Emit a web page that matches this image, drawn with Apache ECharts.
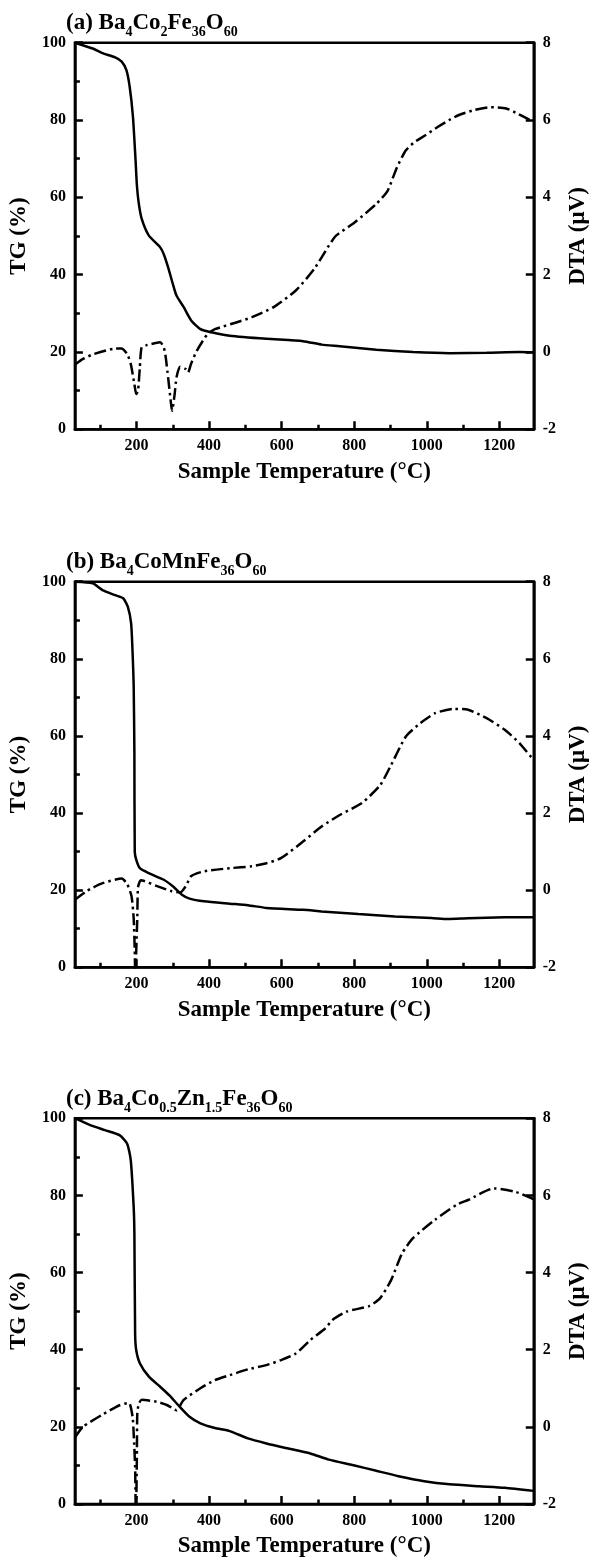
<!DOCTYPE html>
<html><head><meta charset="utf-8">
<script src="https://cdn.jsdelivr.net/npm/echarts@6/dist/echarts.min.js"></script>
<style>html,body{margin:0;padding:0;background:#fff}#c{width:598px;height:1561px}</style>
</head><body><div id="c"></div>
<script>
// ---- tick labels ----
const xTickValues = [200, 400, 600, 800, 1000, 1200];
const xMinorTickValues = [100, 300, 500, 700, 900, 1100];

// ---- panel titles ----
const titleA = '{m|(a) Ba}{s|4}{m|Co}{s|2}{m|Fe}{s|36}{m|O}{s|60}';
const titleB = '{m|(b) Ba}{s|4}{m|CoMnFe}{s|36}{m|O}{s|60}';
const titleC = '{m|(c) Ba}{s|4}{m|Co}{s|0.5}{m|Zn}{s|1.5}{m|Fe}{s|36}{m|O}{s|60}';

// ---- (a) Ba4Co2Fe36O60 ----
const tempA_TG = [30,79,106,141,159,172,181,190,197,201,206,214,234,265,275,287,300,310,330,351,376,406,457,558,659,710,760,861,962,1063,1165,1256,1294];
const tgA      = [100,98.5,97.3,96.2,95.1,92.9,88.6,80.9,70,63,58.5,54.5,50.1,47.1,45.3,41.9,37.6,34.6,31.6,28.1,25.9,25.1,24.2,23.4,22.8,21.9,21.5,20.6,20.0,19.7,19.8,20.0,19.9];
const tempA_DTA = [30,52,83,143,158,174,184,194,199,204,209,214,229,265,275,280,287,295,298,305,310,320,335,342,350,366,396,416,477,518,578,639,690,730,750,801,861,892,918,942,965,995,1030,1062,1089,1132,1176,1219,1245,1272,1294];
const dtaA      = [-0.33,-0.18,-0.05,0.09,0.09,-0.05,-0.31,-0.83,-1.09,-1.0,-0.40,0.12,0.18,0.25,0.12,-0.11,-0.66,-1.34,-1.52,-1.09,-0.66,-0.38,-0.44,-0.53,-0.31,0.03,0.47,0.59,0.77,0.90,1.16,1.59,2.15,2.75,3.01,3.35,3.83,4.17,4.78,5.21,5.42,5.6,5.82,6.0,6.13,6.26,6.33,6.3,6.19,6.06,5.95];

// ---- (b) Ba4CoMnFe36O60 ----
const tempB_TG = [30,79,106,141,163,176,185,189.5,192,194,195,199,209,234,275,300,325,346,386,457,507,558,659,710,811,912,1013,1058,1114,1215,1294];
const tgB      = [100,99.6,97.8,96.5,95.7,93.5,89.2,80.5,73.2,56,30,27.9,25.7,24.4,22.7,21,18.8,17.8,17.1,16.5,16.1,15.4,14.9,14.5,13.8,13.2,12.8,12.5,12.7,12.95,13.0];
const tempB_DTA = [30,63,103,159,174,186,192,195,196.5,199,202,204,212,255,295,320,336,351,386,457,518,558,598,659,710,760,821,872,902,942,982,1023,1073,1114,1165,1215,1256,1294];
const dtaB      = [-0.25,-0.02,0.17,0.30,0.16,-0.15,-0.72,-1.58,-2.3,-1.58,-0.72,0.07,0.26,0.11,-0.02,-0.06,0.11,0.37,0.49,0.57,0.62,0.70,0.83,1.26,1.65,1.95,2.26,2.73,3.25,3.98,4.33,4.59,4.70,4.68,4.46,4.16,3.81,3.38];

// ---- (c) Ba4Co0.5Zn1.5Fe36O60 ----
const tempC_TG = [30,72,113,153,174,184,192,194,196,199,209,234,265,290,315,346,376,416,457,507,558,608,679,730,801,861,922,993,1063,1144,1215,1294];
const tgC      = [100,98.2,96.9,95.6,93.4,89.1,77,70.2,44.2,39.9,36.5,33.0,30.4,28.2,25.6,22.6,20.9,19.7,18.9,17.0,15.7,14.6,13.1,11.5,10.0,8.6,7.2,5.9,5.1,4.6,4.2,3.4];
const tempC_DTA = [30,52,103,153,179,189,192,196,198,200,201,202,206,214,255,285,310,330,376,416,457,507,558,598,639,679,720,740,780,841,871,902,932,962,1023,1083,1114,1185,1245,1294];
const dtaC      = [-0.28,0.0,0.30,0.56,0.62,0.26,-0.17,-1.04,-2.3,-1.47,-0.61,0.35,0.59,0.70,0.65,0.56,0.43,0.70,1.0,1.21,1.34,1.49,1.60,1.73,1.90,2.25,2.55,2.77,2.99,3.13,3.33,3.81,4.50,4.89,5.37,5.76,5.88,6.18,6.09,5.9];

const FONT = '"Liberation Serif", "Times New Roman", serif';
const BLACK = '#000';
const LW = 2.5;

const panels = [
  {title: titleA, top: 42.7, height: 386.6, tx: tempA_TG, tg: tgA, dx: tempA_DTA, dta: dtaA},
  {title: titleB, top: 581.7, height: 385.6, tx: tempB_TG, tg: tgB, dx: tempB_DTA, dta: dtaB},
  {title: titleC, top: 1118.2, height: 385.8, tx: tempC_TG, tg: tgC, dx: tempC_DTA, dta: dtaC}
];

const pairs = (xs, ys) => xs.map((x, i) => [x, ys[i]]);
const plain = v => String(v);
const tickLabel = {fontFamily: FONT, fontWeight: 'bold', fontSize: 16, color: BLACK, margin: 9, formatter: plain};
const nameStyle = {fontFamily: FONT, fontWeight: 'bold', fontSize: 23, color: BLACK};

const option = {animation: false, backgroundColor: '#fff', title: [], grid: [], xAxis: [], yAxis: [], series: []};

panels.forEach((p, i) => {
  option.title.push({
    text: p.title, left: 66, top: p.top - 31, padding: 0,
    textStyle: {rich: {
      m: {fontFamily: FONT, fontWeight: 'bold', fontSize: 23, lineHeight: 23, verticalAlign: 'top', color: BLACK},
      s: {fontFamily: FONT, fontWeight: 'bold', fontSize: 14, lineHeight: 14, padding: [14, 0, 0, 0], verticalAlign: 'top', color: BLACK}
    }}
  });
  option.grid.push({left: 68.3, right: 53.7, top: p.top, height: p.height, show: true, borderColor: BLACK, borderWidth: LW, backgroundColor: 'transparent'});
  option.xAxis.push({
    gridIndex: i, type: 'value', min: 30, max: 1295, position: 'bottom',
    axisLine: {show: true, onZero: false, lineStyle: {color: BLACK, width: LW}},
    axisTick: {show: true, inside: true, length: 8, customValues: xTickValues, lineStyle: {color: BLACK, width: LW}},
    axisLabel: Object.assign({customValues: xTickValues}, tickLabel),
    splitLine: {show: false},
    name: 'Sample Temperature (°C)', nameLocation: 'middle', nameGap: 31, nameTextStyle: nameStyle
  });
  option.xAxis.push({
    gridIndex: i, type: 'value', min: 30, max: 1295, position: 'bottom',
    axisLine: {show: false, onZero: false},
    axisTick: {show: true, inside: true, length: 4.5, customValues: xMinorTickValues, lineStyle: {color: BLACK, width: LW}},
    axisLabel: {show: false}, splitLine: {show: false}
  });
  option.yAxis.push({
    gridIndex: i, type: 'value', min: 0, max: 100, interval: 20, position: 'left',
    axisLine: {show: true, onZero: false, lineStyle: {color: BLACK, width: LW}},
    axisTick: {show: true, inside: true, length: 8, lineStyle: {color: BLACK, width: LW}},
    minorTick: {show: true, splitNumber: 2, length: 5, lineStyle: {color: BLACK, width: LW}},
    axisLabel: tickLabel, splitLine: {show: false},
    name: 'TG (%)', nameLocation: 'middle', nameRotate: 90, nameGap: 34, nameTextStyle: nameStyle
  });
  option.yAxis.push({
    gridIndex: i, type: 'value', min: -2, max: 8, interval: 2, position: 'right',
    axisLine: {show: true, onZero: false, lineStyle: {color: BLACK, width: LW}},
    axisTick: {show: true, inside: true, length: 8, lineStyle: {color: BLACK, width: LW}},
    axisLabel: tickLabel, splitLine: {show: false},
    name: 'DTA (μV)', nameLocation: 'middle', nameRotate: 90, nameGap: 31, nameTextStyle: nameStyle
  });
  option.series.push({
    type: 'line', xAxisIndex: 2 * i, yAxisIndex: 2 * i, data: pairs(p.tx, p.tg),
    symbol: 'none', smooth: 0.2, lineStyle: {color: BLACK, width: LW, type: 'solid'}
  });
  option.series.push({
    type: 'line', xAxisIndex: 2 * i, yAxisIndex: 2 * i + 1, data: pairs(p.dx, p.dta),
    symbol: 'none', smooth: 0.2, clip: true, lineStyle: {color: BLACK, width: LW, type: [12, 4, 2.5, 4]}
  });
});

const chart = echarts.init(document.getElementById('c'), null, {renderer: 'canvas'});
chart.setOption(option);
</script>
</body></html>
